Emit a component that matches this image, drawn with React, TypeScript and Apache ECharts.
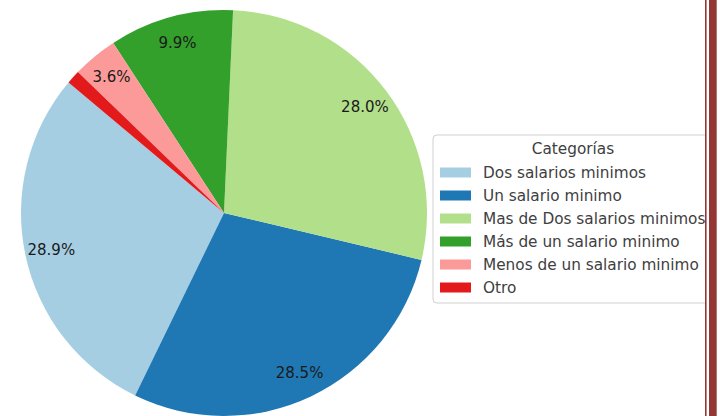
import React, { useEffect, useRef } from "react";
import * as echarts from "echarts";

const categories = [
  "Dos salarios minimos",
  "Un salario minimo",
  "Mas de Dos salarios minimos",
  "Más de un salario minimo",
  "Menos de un salario minimo",
  "Otro",
];
const values = [28.9, 28.5, 28.0, 9.9, 3.6, 1.1];
const colors = ["#a6cee3", "#1f78b4", "#b2df8a", "#33a02c", "#fb9a99", "#e31a1c"];
const showLabel = [true, true, true, true, true, false];
const legendTitle = "Categorías";

export default function App() {
  const ref = useRef<HTMLDivElement>(null);
  useEffect(() => {
    if (!ref.current) return;
    const chart = echarts.init(ref.current, undefined, { renderer: "svg" });
    const font = "DejaVu Sans";
    const R = 203;
    const pieData = categories.map((name, i) => ({
      name,
      value: values[i],
      itemStyle: { color: colors[i] },
    }));
    const labelData = categories.map((name, i) => ({
      name,
      value: values[i],
      label: { show: showLabel[i] },
    }));
    chart.setOption({
      animation: false,
      backgroundColor: "#ffffff",
      legend: {
        orient: "vertical",
        left: 433,
        top: 135,
        data: categories,
        icon: "rect",
        itemWidth: 31,
        itemHeight: 10,
        itemGap: 8,
        padding: [30, 14, 8, 7],
        borderColor: "#d0d0d0",
        borderWidth: 1,
        borderRadius: 4,
        backgroundColor: "#ffffff",
        selectedMode: false,
        textStyle: {
          fontFamily: font,
          fontSize: 15.3,
          lineHeight: 15,
          color: "#404040",
          padding: [0, 0, 0, 7],
        },
      },
      graphic: [
        {
          type: "text",
          x: 573,
          y: 149,
          z: 100,
          style: {
            text: legendTitle,
            fontFamily: font,
            fontSize: 15.3,
            fill: "#404040",
            textAlign: "center",
            textVerticalAlign: "middle",
          },
        },
        {
          type: "rect",
          z: 100,
          shape: { x: 705, y: 0, width: 15, height: 416 },
          style: { fill: "#ffffff" },
        },
        {
          type: "rect",
          z: 101,
          shape: { x: 705, y: 0, width: 1.6, height: 416 },
          style: { fill: "#943634" },
        },
        {
          type: "rect",
          z: 101,
          shape: { x: 709, y: 0, width: 7.7, height: 416 },
          style: { fill: "#943634" },
        },
      ],
      series: [
        {
          type: "pie",
          center: [224, 213],
          radius: [0, R],
          startAngle: 140,
          clockwise: false,
          label: { show: false },
          labelLine: { show: false },
          emphasis: { disabled: true },
          itemStyle: { borderWidth: 0 },
          data: pieData,
        },
        {
          type: "pie",
          center: [224, 213],
          radius: [R * 0.71, R],
          startAngle: 140,
          clockwise: false,
          silent: true,
          legendHoverLink: false,
          emphasis: { disabled: true },
          itemStyle: { color: "rgba(0,0,0,0)", borderWidth: 0 },
          label: {
            show: true,
            position: "inside",
            fontFamily: font,
            fontSize: 15,
            color: "#1a1a1a",
            formatter: (p: any) => p.value.toFixed(1) + "%",
          },
          labelLine: { show: false },
          data: labelData,
        },
      ],
    });
    return () => chart.dispose();
  }, []);
  return (
    <div
      ref={ref}
      style={{ position: "fixed", left: 0, top: 0, width: 720, height: 416 }}
    />
  );
}
